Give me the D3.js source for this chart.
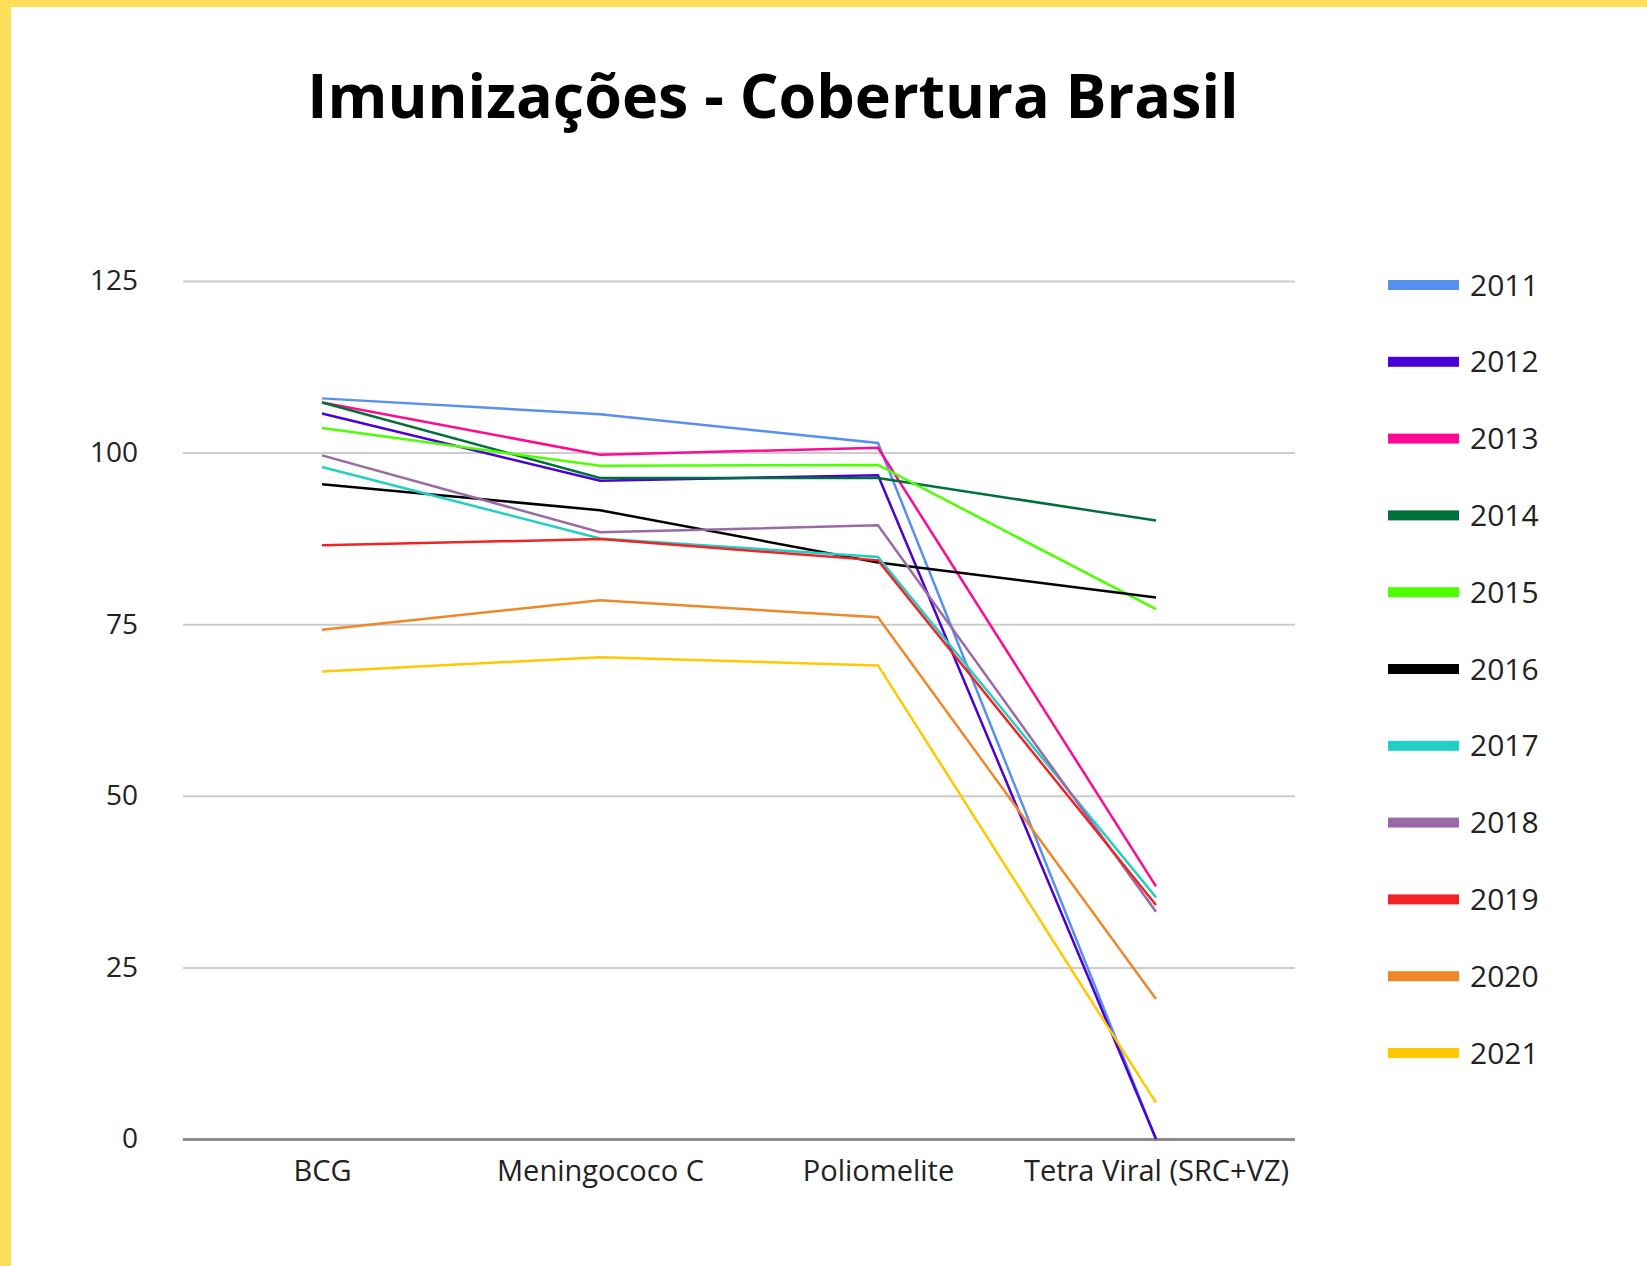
<!DOCTYPE html>
<html>
<head>
<meta charset="utf-8">
<script src="https://cdn.jsdelivr.net/npm/d3@7"></script>
<style>
  body { margin: 0; background: #fff; }
  text { font-family: "Open Sans", sans-serif; }
</style>
</head>
<body>
<div id="chart"></div>
<script>
// categories and tick labels
var vacinas = ['BCG', 'Meningococo C', 'Poliomelite', 'Tetra Viral (SRC+VZ)'];
var anos = ['2011', '2012', '2013', '2014', '2015', '2016', '2017', '2018', '2019', '2020', '2021'];
var yTicks = [0, 25, 50, 75, 100, 125];

// coverage (%) per year, in the order of vacinas
var v2011 = [107.9, 105.6, 101.4, 0];
var v2012 = [105.7, 95.9, 96.7, 0];
var v2013 = [107.3, 99.7, 100.7, 36.8];
var v2014 = [107.3, 96.3, 96.3, 90.1];
var v2015 = [103.6, 98.1, 98.2, 77.2];
var v2016 = [95.4, 91.6, 84.0, 78.9];
var v2017 = [97.9, 87.5, 84.8, 35.2];
var v2018 = [99.6, 88.4, 89.4, 33.1];
var v2019 = [86.5, 87.4, 84.3, 34.1];
var v2020 = [74.2, 78.5, 76.0, 20.4];
var v2021 = [68.1, 70.2, 69.0, 5.3];

var cores = ['#5890f0', '#4a00d6', '#ff0a94', '#00703a', '#4dff00', '#000000',
             '#22cfc6', '#9a6aa6', '#f02424', '#f0882a', '#ffc800'];

var series = [v2011, v2012, v2013, v2014, v2015, v2016, v2017, v2018, v2019, v2020, v2021]
  .map((vals, i) => ({ ano: anos[i], cor: cores[i], vals: vals }));

var width = 1647, height = 1266;
var margin = ({top: 281, right: 352, bottom: 127, left: 183});
var visWidth = width - margin.left - margin.right;
var visHeight = height - margin.top - margin.bottom;

var svg = d3.select('#chart')
  .append('svg')
  .attr('width', width)
  .attr('height', height);

// yellow frame (top and left only)
svg.append('rect').attr('x', 0).attr('y', 0).attr('width', width).attr('height', 7).attr('fill', '#ffde59');
svg.append('rect').attr('x', 0).attr('y', 0).attr('width', 11).attr('height', height).attr('fill', '#ffde59');

svg.append('text')
  .attr('x', 773)
  .attr('y', 118)
  .attr('text-anchor', 'middle')
  .style('font-size', '61px')
  .style('font-weight', 'bold')
  .attr('fill', '#000')
  .text('Imunizações - Cobertura Brasil');

var x = d3.scalePoint()
  .domain(vacinas)
  .range([0, visWidth])
  .padding(0.5);

var y = d3.scaleLinear()
  .domain([0, 125])
  .range([visHeight, 0]);

var g = svg.append('g')
  .attr('transform', `translate(${margin.left}, ${margin.top})`);

// gridlines
var yAxis = g.append('g')
  .call(d3.axisLeft(y).tickValues(yTicks).tickSize(-visWidth).tickPadding(45));
yAxis.select('.domain').remove();
yAxis.selectAll('.tick line')
  .attr('stroke', d => d === 0 ? '#8c8c8c' : '#cccccc')
  .attr('stroke-width', d => d === 0 ? 3 : 2);
yAxis.selectAll('.tick text')
  .style('font-family', '"Open Sans", sans-serif')
  .style('font-size', '28px')
  .attr('fill', '#222');

var xAxis = g.append('g')
  .attr('transform', `translate(0, ${visHeight})`)
  .call(d3.axisBottom(x).tickSize(0).tickPadding(21));
xAxis.select('.domain').remove();
xAxis.selectAll('.tick text')
  .style('font-family', '"Open Sans", sans-serif')
  .style('font-size', '29px')
  .attr('fill', '#222');

var line = d3.line()
  .x((d, i) => x(vacinas[i]))
  .y(d => y(d));

g.selectAll('.serie')
  .data(series)
  .join('path')
    .attr('class', 'serie')
    .attr('fill', 'none')
    .attr('stroke', d => d.cor)
    .attr('stroke-width', 2.5)
    .attr('d', d => line(d.vals));

// legend
var ly = d3.scalePoint()
  .domain(anos)
  .range([285, 1053]);

var legend = svg.append('g')
  .selectAll('g')
  .data(series)
  .join('g')
    .attr('transform', d => `translate(1388, ${ly(d.ano)})`);

legend.append('rect')
  .attr('x', 0)
  .attr('y', -5)
  .attr('width', 71)
  .attr('height', 10)
  .attr('fill', d => d.cor);

legend.append('text')
  .attr('x', 82)
  .attr('dy', '0.35em')
  .style('font-size', '30px')
  .attr('fill', '#222')
  .text(d => d.ano);
</script>
</body>
</html>
